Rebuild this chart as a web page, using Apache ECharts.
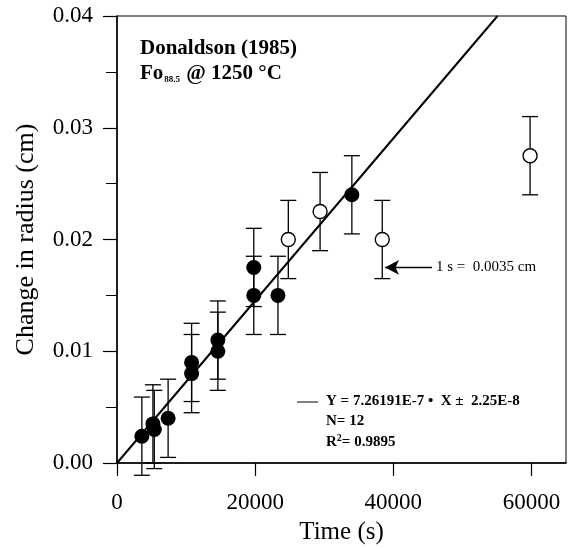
<!DOCTYPE html>
<html>
<head>
<meta charset="utf-8">
<script src="https://cdn.jsdelivr.net/npm/echarts@6/dist/echarts.min.js"></script>
<style>
  html, body { margin: 0; padding: 0; background: #fff; }
  #chart { width: 576px; height: 549px; }
</style>
</head>
<body>
<div id="chart"></div>
<script>
// Donaldson (1985) dissolution data
const filledTime = [3600, 5200, 5400, 7400, 10800, 10800, 14600, 14600, 19800, 19800, 23300, 34000]
const filledRadius = [0.0024, 0.0035, 0.003, 0.004, 0.009, 0.008, 0.011, 0.010, 0.0175, 0.015, 0.015, 0.024]
const openTime = [24800, 29400, 38400, 59800]
const openRadius = [0.020, 0.0225, 0.020, 0.0275]
const sigma = 0.0035            // 1 s error bar half-width (cm)
const fitSlope = 7.26191e-7     // Y = slope * X
const xTicks = [0, 20000, 40000, 60000]
const yTicks = [0.00, 0.01, 0.02, 0.03, 0.04]

const serif = '"Liberation Serif", "DejaVu Serif", serif'

const filledPts = filledTime.map((t, i) => [t, filledRadius[i]])
const openPts = openTime.map((t, i) => [t, openRadius[i]])
const allPts = filledPts.concat(openPts)

// fit line from origin up to the top of the plot
const yTop = yTicks[yTicks.length - 1]
const fitLine = [[0, 0], [yTop / fitSlope, yTop]]

/** error bars: vertical line with caps, drawn through the axes */
function renderErrorBar(params, api) {
  const x = api.value(0)
  const y = api.value(1)
  const top = api.coord([x, y + sigma])
  const bot = api.coord([x, y - sigma])
  const cap = 8
  const style = { stroke: '#000', lineWidth: 1.3 }
  return {
    type: 'group',
    children: [
      { type: 'line', shape: { x1: top[0], y1: top[1], x2: bot[0], y2: bot[1] }, style },
      { type: 'line', shape: { x1: top[0] - cap, y1: top[1], x2: top[0] + cap, y2: top[1] }, style },
      { type: 'line', shape: { x1: bot[0] - cap, y1: bot[1], x2: bot[0] + cap, y2: bot[1] }, style }
    ]
  }
}

const chart = echarts.init(document.getElementById('chart'))

chart.setOption({
  animation: false,
  backgroundColor: '#fff',
  grid: {
    left: 117, top: 16, right: 10, bottom: 86,
    outerBoundsMode: 'none',
    containLabel: false,
    show: true, borderColor: '#000', borderWidth: 1
  },
  xAxis: {
    type: 'value',
    min: 0, max: 65000, interval: 20000,
    name: 'Time (s)',
    nameLocation: 'middle',
    nameGap: 57,
    nameTextStyle: { fontFamily: serif, fontSize: 25, color: '#000' },
    axisLine: { onZero: false, lineStyle: { color: '#000', width: 1.5 } },
    axisTick: { length: 13, inside: false, lineStyle: { color: '#000', width: 1.2 } },
    axisLabel: {
      margin: 28,
      fontFamily: serif, fontSize: 23, color: '#000',
      showMaxLabel: false,
      formatter: v => (xTicks.includes(v) ? String(v) : '')
    },
    splitLine: { show: false }
  },
  yAxis: {
    type: 'value',
    min: 0, max: 0.04, interval: 0.01,
    name: 'Change in radius (cm)',
    nameLocation: 'middle',
    nameGap: 78,
    nameTextStyle: { fontFamily: serif, fontSize: 26, color: '#000' },
    axisLine: { onZero: false, lineStyle: { color: '#000', width: 1.5 } },
    axisTick: { length: 14, lineStyle: { color: '#000', width: 1.2 } },
    minorTick: { show: true, splitNumber: 2, length: 11, lineStyle: { color: '#000', width: 1 } },
    axisLabel: {
      margin: 24,
      fontFamily: serif, fontSize: 23, color: '#000',
      formatter: v => v.toFixed(2)
    },
    splitLine: { show: false },
    minorSplitLine: { show: false }
  },
  series: [
    {
      name: 'fit',
      type: 'line',
      data: fitLine,
      symbol: 'none',
      clip: true,
      lineStyle: { color: '#000', width: 2 },
      z: 2,
      markLine: {
        silent: true,
        symbol: ['none', 'arrow'],
        symbolSize: [11, 14],
        lineStyle: { color: '#000', width: 1.3, type: 'solid' },
        label: { show: false },
        data: [[{ coord: [45600, 0.0175] }, { coord: [38800, 0.0175] }]]
      }
    },
    {
      name: 'errors',
      type: 'custom',
      renderItem: renderErrorBar,
      data: allPts,
      z: 3
    },
    {
      name: 'measured',
      type: 'scatter',
      data: filledPts,
      symbol: 'circle',
      symbolSize: 15,
      itemStyle: { color: '#000', opacity: 1 },
      z: 4
    },
    {
      name: 'excluded',
      type: 'scatter',
      data: openPts,
      symbol: 'circle',
      symbolSize: 14,
      itemStyle: { color: '#fff', borderColor: '#000', borderWidth: 1.4, opacity: 1 },
      z: 4
    }
  ],
  graphic: [
    {
      type: 'text', left: 140, top: 38,
      style: { text: 'Donaldson (1985)', font: 'bold 21px ' + serif, fill: '#000' }
    },
    {
      type: 'text', left: 140, top: 63,
      style: {
        text: '{b|Fo}{s|88.5}{b| @ 1250 °C}',
        fill: '#000',
        rich: {
          b: { font: 'bold 21px ' + serif, fill: '#000' },
          s: { font: 'bold 9px ' + serif, fill: '#000', padding: [12, 1, 0, 1] }
        }
      }
    },
    {
      type: 'text', left: 436, top: 260,
      style: { text: '1 s =  0.0035 cm', font: '15px ' + serif, fill: '#000' }
    },
    {
      type: 'line',
      shape: { x1: 297, y1: 402, x2: 318, y2: 402 },
      style: { stroke: '#000', lineWidth: 1 }
    },
    {
      type: 'text', left: 326, top: 394,
      style: { text: 'Y = 7.26191E-7 •  X ±  2.25E-8', font: 'bold 15px ' + serif, fill: '#000' }
    },
    {
      type: 'text', left: 326, top: 414,
      style: { text: 'N= 12', font: 'bold 15px ' + serif, fill: '#000' }
    },
    {
      type: 'text', left: 326, top: 433,
      style: {
        text: '{b|R}{p|2}{b|= 0.9895}',
        rich: {
          b: { font: 'bold 15px ' + serif, fill: '#000' },
          p: { font: 'bold 10px ' + serif, fill: '#000', padding: [0, 0, 8, 0] }
        }
      }
    }
  ]
})
</script>
</body>
</html>
